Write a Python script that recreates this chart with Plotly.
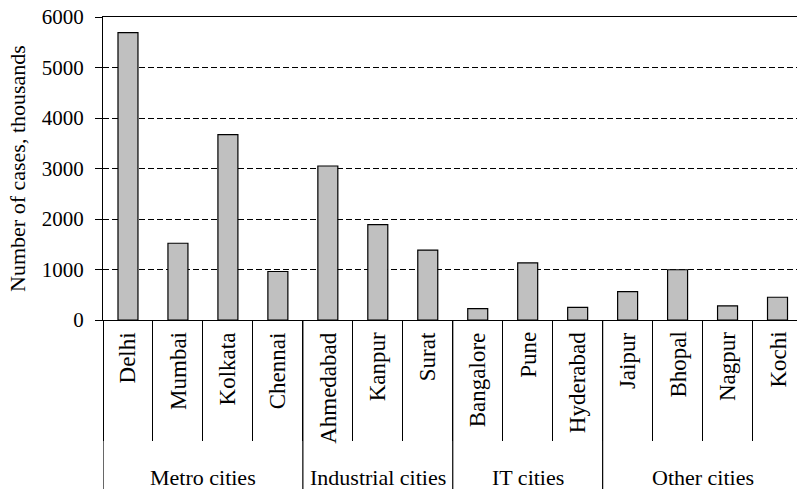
import plotly.graph_objects as go

cities = ["Delhi", "Mumbai", "Kolkata", "Chennai", "Ahmedabad", "Kanpur", "Surat",
          "Bangalore", "Pune", "Hyderabad", "Jaipur", "Bhopal", "Nagpur", "Kochi"]
cases = [5690, 1520, 3670, 960, 3050, 1890, 1385, 225, 1130, 250, 560, 995, 280, 450]
groups = ["Metro cities", "Industrial cities", "IT cities", "Other cities"]
group_sizes = [4, 3, 3, 4]

FONT = "Liberation Serif"

fig = go.Figure()

fig.add_trace(go.Bar(
    x=cities, y=cases,
    marker=dict(color="#c0c0c0", line=dict(color="black", width=1.2)),
    showlegend=False,
))

# city labels, rotated, under the axis
for c in cities:
    fig.add_annotation(
        x=c, y=0, xref="x", yref="paper",
        text=c, textangle=-90, showarrow=False,
        xanchor="center", yanchor="top", yshift=-10,
        font=dict(family=FONT, size=23, color="black"),
    )

# group labels and group dividers
start = 0
fig.add_shape(type="line", xref="x", yref="paper", x0=-0.5, x1=-0.5,
              y0=0, y1=-0.6, line=dict(color="black", width=1.2))
for g, n in zip(groups, group_sizes):
    end = start + n
    fig.add_annotation(
        x=(start + end - 1) / 2, y=0, xref="x", yref="paper",
        text=g, showarrow=False, xanchor="center", yanchor="middle",
        yshift=-157, font=dict(family=FONT, size=22, color="black"),
    )
    fig.add_shape(type="line", xref="x", yref="paper",
                  x0=end - 0.5, x1=end - 0.5, y0=0, y1=-0.6,
                  line=dict(color="black", width=1.2))
    start = end

fig.update_layout(
    width=798, height=489,
    margin=dict(l=103, r=1, t=17, b=169, autoexpand=False),
    plot_bgcolor="white", paper_bgcolor="white",
    bargap=0.6,
    font=dict(family=FONT, size=21, color="black"),
)

fig.update_xaxes(
    type="category", range=[-0.5, 13.39], automargin=False,
    showticklabels=False,
    ticks="outside", tickson="boundaries", ticklen=120,
    tickcolor="black", tickwidth=1.2,
    showline=True, linecolor="black", linewidth=1.2, mirror=True,
    showgrid=False,
)

fig.update_yaxes(
    range=[0, 6000], dtick=1000, automargin=False,
    showline=True, linecolor="black", linewidth=1.2,
    ticks="outside", ticklen=7, tickcolor="black", tickwidth=1.2,
    ticklabelstandoff=7, ticklabeloverflow="allow",
    showgrid=True, gridcolor="black", gridwidth=1, griddash="6px,3px",
    zeroline=False,
    title=dict(text="Number of cases, thousands", standoff=10,
               font=dict(family=FONT, size=22, color="black")),
    tickfont=dict(family=FONT, size=21, color="black"),
)

# drop the default 8px body margin so the figure fills the window
fig.write_html("out.html", config={"displayModeBar": False},
               post_script="document.body.style.margin='0';")
